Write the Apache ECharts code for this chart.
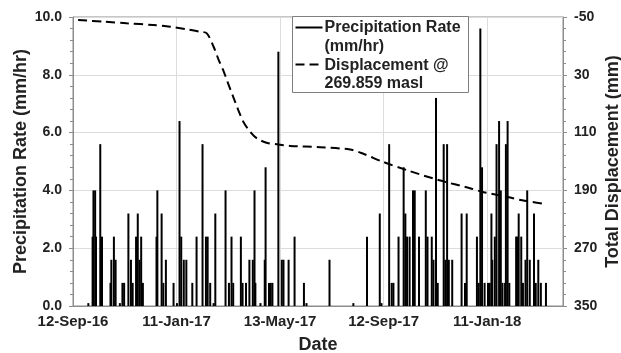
<!DOCTYPE html>
<html>
<head>
<meta charset="utf-8">
<script src="https://cdn.jsdelivr.net/npm/echarts@6/dist/echarts.min.js"></script>
<style>
  html, body { margin: 0; padding: 0; background: #fff; }
  #chart { width: 621px; height: 353px; }
</style>
</head>
<body>
<div id="chart"></div>
<script>
// x values are days since 12-Sep-16
const xTickLabels = ['12-Sep-16', '11-Jan-17', '13-May-17', '12-Sep-17', '11-Jan-18']
const xStep = 121.5

// precipitation rate (mm/hr)
const precipDay = [18, 23, 24, 26, 27, 32, 34, 44, 45, 48, 50, 55, 58, 60, 65, 68, 70, 74, 76, 78, 80, 82,
  98, 99, 104, 106, 109, 118, 122, 125, 127, 130, 133, 140, 145, 152, 156, 158, 161, 165, 167,
  179, 183, 186, 188, 197, 199, 203, 207, 211, 213, 214, 220, 225, 226, 230, 232, 234, 241, 245, 247,
  253, 260, 271, 274, 301, 329, 345, 360, 362, 371, 374, 376, 382, 388, 390, 392, 395, 399, 401,
  406, 414, 416, 421, 423, 426, 428, 435, 437, 439, 441, 445, 456, 460, 462, 474, 476, 478, 480,
  483, 487, 489, 491, 492, 495, 497, 500, 502, 504, 507, 508, 510, 512, 520, 521, 523, 526, 528,
  531, 533, 536, 541, 543, 546, 549, 555]
const precipRate = [0.1, 2.4, 4.0, 4.0, 2.4, 5.6, 2.4, 0.8, 1.6, 2.4, 1.6, 0.1, 0.8, 0.8, 3.2, 1.6, 0.8, 2.4, 3.2, 1.6, 2.4, 0.8,
  2.4, 4.0, 3.2, 0.8, 1.6, 0.8, 0.1, 6.4, 2.4, 1.6, 1.6, 0.8, 2.4, 5.6, 2.4, 2.4, 0.8, 0.1, 3.2,
  4.0, 0.8, 2.4, 0.8, 2.4, 0.8, 0.8, 1.6, 1.6, 4.0, 0.8, 0.1, 1.6, 4.8, 0.8, 0.8, 0.8, 8.8, 1.6, 1.6,
  1.6, 2.4, 0.8, 0.1, 1.6, 0.1, 2.4, 3.2, 0.1, 5.6, 0.8, 0.8, 2.4, 4.8, 3.2, 2.4, 2.4, 4.0, 4.0,
  2.4, 4.0, 2.4, 2.4, 1.6, 7.2, 0.8, 5.6, 1.6, 5.6, 1.6, 1.6, 3.2, 0.8, 3.2, 2.4, 0.8, 9.6, 4.8,
  0.8, 0.8, 0.8, 3.2, 1.6, 2.4, 5.6, 6.4, 4.0, 0.8, 0.8, 5.6, 6.4, 0.8, 2.4, 2.4, 3.2, 2.4, 0.8,
  1.6, 4.0, 1.6, 3.2, 0.8, 1.6, 0.8, 0.8]

// total displacement (mm) @ 269.859 masl
const dispDay = [6, 36, 63, 94, 114, 134, 149, 157, 165, 171, 177, 182, 188, 194, 200, 208, 216, 228, 239,
  255, 290, 325, 340, 364, 392, 430, 466, 481, 510, 527, 539, 551]
const dispMm = [-45.8, -43.5, -41.3, -38.9, -36.6, -32.9, -29.6, -27.4, -8.8, 9.6, 25.8, 41.9, 60.5, 78.9, 95.2, 109, 118.2, 124.3, 126.1,
  128.5, 130.2, 133.4, 139, 150.6, 162.1, 176, 187, 192.2, 199.2, 203.7, 206.1, 208.3]

const fontFamily = '"Liberation Sans", Arial, sans-serif'
const textColor = '#222'
const axisGrey = '#8c8c8c'

var myChart = echarts.init(document.getElementById('chart'))

const option = {
  animation: false,
  textStyle: { fontFamily: fontFamily },
  grid: {
    left: 73,
    right: 58,
    top: 17,
    bottom: 47,
    outerBoundsMode: 'none',
    containLabel: false,
    show: true,
    borderColor: axisGrey,
    borderWidth: 1
  },
  xAxis: {
    type: 'value',
    min: 0,
    max: 575,
    interval: xStep,
    name: 'Date',
    nameLocation: 'middle',
    nameGap: 30,
    nameMoveOverlap: false,
    nameTextStyle: { fontSize: 18, fontWeight: 'bold', color: textColor },
    axisLine: { lineStyle: { color: axisGrey } },
    axisTick: { show: false },
    axisLabel: {
      fontSize: 15,
      fontWeight: 'bold',
      color: textColor,
      margin: 8,
      showMaxLabel: false,
      formatter: function (v) {
        return xTickLabels[Math.round(v / xStep)] || ''
      }
    },
    splitLine: { show: true, lineStyle: { color: '#dcdcdc' } }
  },
  yAxis: [
    {
      type: 'value',
      min: 0,
      max: 10,
      interval: 2,
      name: 'Precipitation Rate (mm/hr)',
      nameLocation: 'middle',
      nameRotate: 90,
      nameGap: 43,
      nameMoveOverlap: false,
      nameTextStyle: { fontSize: 18, fontWeight: 'bold', color: textColor },
      axisLine: { show: true, lineStyle: { color: axisGrey } },
      axisTick: { show: true, inside: false, length: 4, lineStyle: { color: axisGrey } },
      minorTick: { show: true, splitNumber: 5, length: 3, lineStyle: { color: axisGrey } },
      axisLabel: {
        fontSize: 14,
        fontWeight: 'bold',
        color: textColor,
        margin: 11,
        formatter: function (v) { return v.toFixed(1) }
      },
      splitLine: { show: true, lineStyle: { color: '#dcdcdc' } }
    },
    {
      type: 'value',
      min: -50,
      max: 350,
      interval: 80,
      inverse: true,
      position: 'right',
      name: 'Total Displacement (mm)',
      nameLocation: 'middle',
      nameRotate: 90,
      nameGap: 41,
      nameMoveOverlap: false,
      nameTextStyle: { fontSize: 18, fontWeight: 'bold', color: textColor },
      axisLine: { show: true, lineStyle: { color: axisGrey } },
      axisTick: { show: true, inside: false, length: 4, lineStyle: { color: axisGrey } },
      minorTick: { show: true, splitNumber: 5, length: 3, lineStyle: { color: axisGrey } },
      axisLabel: { fontSize: 14, fontWeight: 'bold', color: textColor, margin: 11 },
      splitLine: { show: false }
    }
  ],
  graphic: [
    {
      type: 'group',
      left: 292,
      top: 16,
      z: 100,
      children: [
        { type: 'rect', z: 100, shape: { x: 0, y: 0, width: 176, height: 76 },
          style: { fill: '#fff', stroke: '#7f7f7f', lineWidth: 1 } },
        { type: 'line', z: 101, shape: { x1: 3, y1: 11, x2: 30, y2: 11 },
          style: { stroke: '#000', lineWidth: 2 } },
        { type: 'line', z: 101, shape: { x1: 3, y1: 48, x2: 30, y2: 48 },
          style: { stroke: '#000', lineWidth: 2, lineDash: [9, 5] } },
        { type: 'text', z: 101, x: 32, y: 2,
          style: { text: 'Precipitation Rate\n(mm/hr)\nDisplacement @\n269.859 masl', fontSize: 16, fontWeight: 'bold',
            fontFamily: fontFamily, fill: textColor, lineHeight: 18.7 } }
      ]
    }
  ],
  series: [
    {
      name: 'Precipitation Rate (mm/hr)',
      type: 'bar',
      barWidth: 2,
      barGap: '-100%',
      itemStyle: { color: '#000' },
      data: precipDay.map((d, i) => [d, precipRate[i]])
    },
    {
      name: 'Displacement @ 269.859 masl',
      type: 'line',
      yAxisIndex: 1,
      smooth: 0.3,
      symbol: 'none',
      lineStyle: { color: '#000', width: 2, type: [9, 5] },
      data: dispDay.map((d, i) => [d, dispMm[i]])
    }
  ]
}

myChart.setOption(option)
</script>
</body>
</html>
